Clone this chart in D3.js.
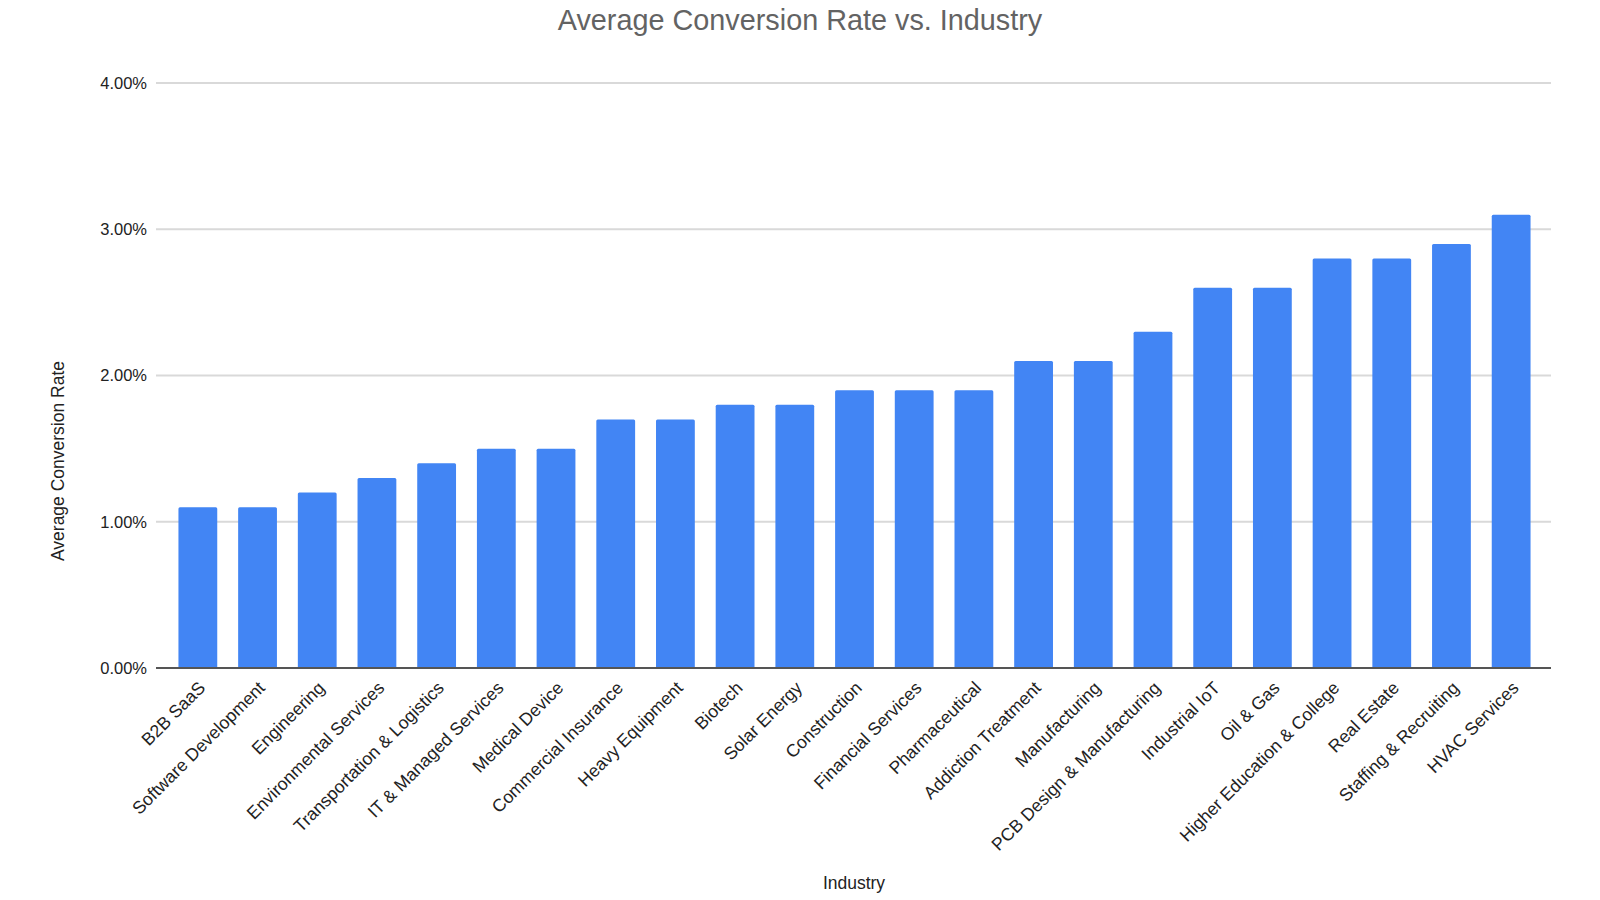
<!DOCTYPE html>
<html>
<head>
<meta charset="utf-8">
<script src="https://cdn.jsdelivr.net/npm/d3@7"></script>
<style>
  body { margin: 0; background: #fff; }
  text { font-family: "Liberation Sans", Arial, sans-serif; }
</style>
</head>
<body>
<div id="chart"></div>
<script>
// industries, sorted as in the chart
const industries = [
  "B2B SaaS", "Software Development", "Engineering", "Environmental Services",
  "Transportation & Logistics", "IT & Managed Services", "Medical Device",
  "Commercial Insurance", "Heavy Equipment", "Biotech", "Solar Energy",
  "Construction", "Financial Services", "Pharmaceutical", "Addiction Treatment",
  "Manufacturing", "PCB Design & Manufacturing", "Industrial IoT", "Oil & Gas",
  "Higher Education & College", "Real Estate", "Staffing & Recruiting", "HVAC Services"
];

// average conversion rate (fraction)
const conversionRates = [
  0.011, 0.011, 0.012, 0.013, 0.014, 0.015, 0.015, 0.017, 0.017, 0.018, 0.018,
  0.019, 0.019, 0.019, 0.021, 0.021, 0.023, 0.026, 0.026, 0.028, 0.028, 0.029, 0.031
];

const yTicks = [0, 0.01, 0.02, 0.03, 0.04];

const data = industries.map((name, i) => ({ name: name, value: conversionRates[i] }));

const width = 1600, height = 900;

const svg = d3.select("#chart")
  .append("svg")
    .attr("width", width)
    .attr("height", height);

// scales
const x = d3.scaleBand()
  .domain(industries)
  .range([168, 1541])
  .paddingInner(0.35)
  .paddingOuter(0.175);

const y = d3.scaleLinear()
  .domain([0, 0.04])
  .range([668, 83]);

const plotLeft = 156, plotRight = 1551;

// gridlines
svg.append("g")
  .selectAll("line")
  .data(yTicks.filter(d => d > 0))
  .enter()
  .append("line")
    .attr("x1", plotLeft)
    .attr("x2", plotRight)
    .attr("y1", d => y(d))
    .attr("y2", d => y(d))
    .style("stroke", "#d9d9d9")
    .style("stroke-width", 2);

// y axis labels
const yAxis = svg.append("g")
  .attr("transform", `translate(${plotLeft - 9},0)`)
  .call(d3.axisLeft(y).tickValues(yTicks).tickSize(0).tickPadding(0).tickFormat(d3.format(".2%")));
yAxis.select(".domain").remove();
yAxis.selectAll("text")
  .style("font-size", "16.5px")
  .style("fill", "#222");

// bars
svg.selectAll("rect.bar")
  .data(data)
  .enter()
  .append("rect")
    .attr("class", "bar")
    .attr("x", d => x(d.name))
    .attr("y", d => y(d.value))
    .attr("width", x.bandwidth())
    .attr("height", d => y(0) - y(d.value))
    .attr("rx", 1.5)
    .style("fill", "#4285f4");

// baseline
svg.append("line")
  .attr("x1", plotLeft)
  .attr("x2", plotRight)
  .attr("y1", y(0))
  .attr("y2", y(0))
  .style("stroke", "#555")
  .style("stroke-width", 2);

// x axis labels, rotated
const xAxis = svg.append("g")
  .attr("transform", `translate(0,${y(0)})`)
  .call(d3.axisBottom(x).tickSize(0));
xAxis.select(".domain").remove();
xAxis.selectAll("text")
  .attr("x", 0)
  .attr("y", 0)
  .attr("dy", 0)
  .attr("transform", "translate(8.5,21) rotate(-45)")
  .style("text-anchor", "end")
  .style("font-size", "17.7px")
  .style("fill", "#222");

// chart title
svg.append("text")
  .attr("x", 800)
  .attr("y", 30)
  .attr("text-anchor", "middle")
  .style("font-size", "28.8px")
  .style("fill", "#636363")
  .text("Average Conversion Rate vs. Industry");

// axis titles
svg.append("text")
  .attr("transform", "translate(64,461) rotate(-90)")
  .attr("text-anchor", "middle")
  .style("font-size", "17.5px")
  .style("fill", "#222")
  .text("Average Conversion Rate");

svg.append("text")
  .attr("x", 854)
  .attr("y", 889)
  .attr("text-anchor", "middle")
  .style("font-size", "17.5px")
  .style("fill", "#222")
  .text("Industry");
</script>
</body>
</html>
